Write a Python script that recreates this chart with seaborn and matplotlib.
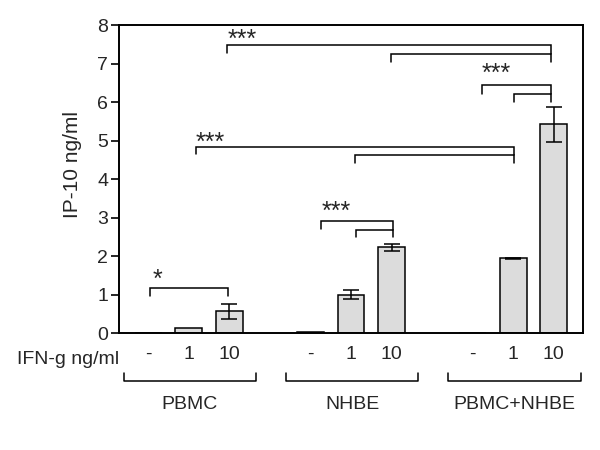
import matplotlib
matplotlib.use('Agg')
import matplotlib.pyplot as plt
import matplotlib.transforms as mtransforms
import numpy as np
import pandas as pd
import seaborn as sns

# Data
groups = ['PBMC', 'NHBE', 'PBMC+NHBE']
doses = ['-', '1', '10']
ip10_mean = [0.0, 0.12, 0.56, 0.02, 1.00, 2.23, 0.0, 1.94, 5.42]
ip10_err = [0.0, 0.0, 0.19, 0.0, 0.11, 0.09, 0.0, 0.02, 0.46]

# significance brackets: x_left, x_right, y, left leg end, right leg end
brackets = [
    (0.05, 1.96, 1.18, 0.95, 0.95),
    (4.27, 6.04, 2.92, 2.70, 2.68),
    (5.12, 6.04, 2.68, 2.49, 2.49),
    (8.22, 9.93, 6.44, 6.22, 6.21),
    (9.02, 9.93, 6.21, 6.01, 6.01),
    (1.17, 9.02, 4.84, 4.64, 4.62),
    (5.10, 9.02, 4.62, 4.41, 4.41),
    (1.95, 9.93, 7.49, 7.28, 7.25),
    (5.99, 9.93, 7.25, 7.04, 7.04),
]
# star labels: text, left x, glyph centre y
stars = [
    ('*', 0.12, 1.47),
    ('***', 4.27, 3.24),
    ('***', 8.22, 6.83),
    ('***', 1.17, 5.04),
    ('***', 1.95, 7.72),
]

sns.set_style('ticks')
plt.rcParams['font.family'] = ['Liberation Sans', 'DejaVu Sans']

pos = [4 * g + d for g in range(len(groups)) for d in range(len(doses))]
df = pd.DataFrame({'pos': pos, 'ip10': ip10_mean})

fig, ax = plt.subplots(figsize=(6, 4.5), dpi=100)
fig.subplots_adjust(left=0.199, right=0.971, bottom=0.26, top=0.944)

sns.barplot(data=df, x='pos', y='ip10', native_scale=True, width=0.66,
            color='#dcdcdc', saturation=1, edgecolor='black', linewidth=1.1,
            errorbar=None, ax=ax)

err = np.array(ip10_err)
m = err > 0
ax.errorbar(np.array(pos)[m], np.array(ip10_mean)[m], yerr=err[m], fmt='none',
            ecolor='black', elinewidth=1.1, capsize=6, capthick=1.1)

for x1, x2, y, l1, l2 in brackets:
    ax.plot([x1, x1, x2, x2], [l1, y, y, l2], color='black', lw=1.1,
            solid_joinstyle='miter')

for s, x, y in stars:
    ax.annotate(s, xy=(x, y), xytext=(0, -7.5), textcoords='offset points',
                ha='left', va='baseline', fontsize=18)

ax.set_xlim(-0.71, 10.71)
ax.set_ylim(0, 8)
ax.set_yticks(range(0, 9))
ax.set_xticks(pos, doses * len(groups))
ax.tick_params(axis='x', length=0, pad=9.5, labelsize=14)
ax.tick_params(axis='y', length=6, width=1.4, pad=2, labelsize=14, direction='out')
for sp in ax.spines.values():
    sp.set_visible(True)
    sp.set_linewidth(1.4)
    sp.set_color('black')

ax.set_xlabel('')
ax.set_ylabel('IP-10 ng/ml', fontsize=15)
ax.yaxis.set_label_coords(-0.08, 0.549)

trans = mtransforms.blended_transform_factory(ax.transData, ax.transAxes)
ax.text(0, -0.0997, 'IFN-g ng/ml', transform=ax.transAxes, ha='right',
        va='baseline', fontsize=14)
for g, name in enumerate(groups):
    a, b = 4 * g - 0.6, 4 * g + 2.66
    ax.plot([a, a, b, b], [-0.130, -0.156, -0.156, -0.130], color='black',
            lw=1.1, transform=trans, clip_on=False)
    ax.text((a + b) / 2, -0.246, name, transform=trans, ha='center',
            va='baseline', fontsize=14)

fig.savefig('out.png', dpi=100)
